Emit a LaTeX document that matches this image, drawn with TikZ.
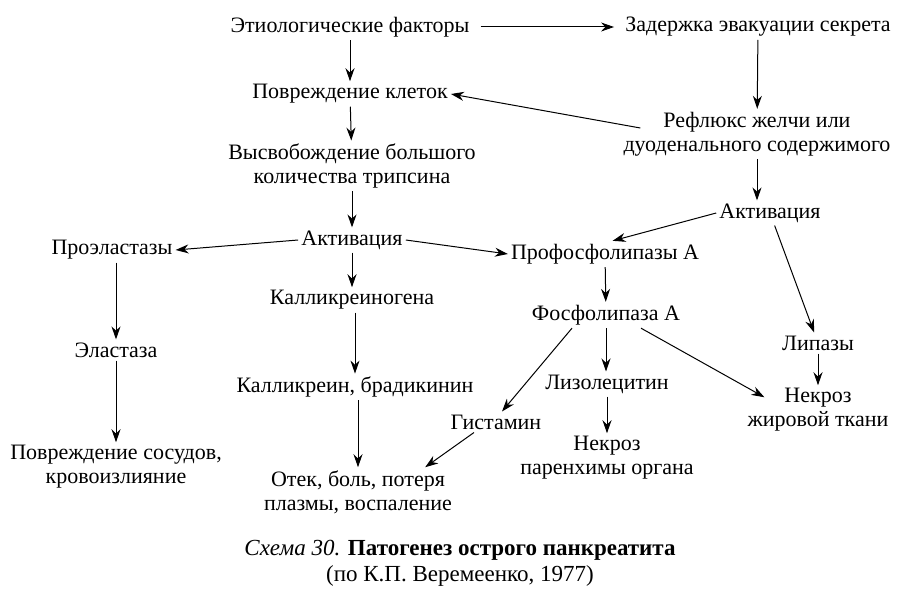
\documentclass[tikz,border=0pt]{standalone}
\usepackage{fontspec}
\setmainfont{Liberation Serif}
\usetikzlibrary{arrows, arrows.meta}

\begin{document}
\begin{tikzpicture}[x=1pt, y=-1pt, font=\fontsize{22}{24}\selectfont,
        txt/.style={inner sep=3pt, align=center},
        arr/.style={-{Stealth[length=13pt, width=9pt]}, line width=1pt}]
        \useasboundingbox (0,0) rectangle (922,604);
        \node[txt] (etio) at (350,27) {Этиологические факторы};
        \node[txt] (zad) at (758,27) {Задержка эвакуации секрета};
        \node[txt] (povr) at (350,94) {Повреждение клеток};
        \node[txt] (refl) at (757,134) {Рефлюкс желчи или\\дуоденального содержимого};
        \node[txt] (vys) at (352,166) {Высвобождение большого\\количества трипсина};
        \node[txt] (akt1) at (352,240) {Активация};
        \node[txt] (akt2) at (770,213) {Активация};
        \node[txt] (proel) at (112,250) {Проэластазы};
        \node[txt] (prof) at (605,254) {Профосфолипазы А};
        \node[txt] (kalg) at (352,300) {Калликреиногена};
        \node[txt] (elast) at (116,350) {Эластаза};
        \node[txt] (fosf) at (606,315) {Фосфолипаза А};
        \node[txt] (lip) at (818,343) {Липазы};
        \node[txt] (kalb) at (355,387) {Калликреин, брадикинин};
        \node[txt] (lizo) at (607,384) {Лизолецитин};
        \node[txt] (gist) at (496,422) {Гистамин};
        \node[txt] (nekrz) at (818,410) {Некроз\\жировой ткани};
        \node[txt] (nekrp) at (607,458) {Некроз\\паренхимы органа};
        \node[txt] (povs) at (116,467) {Повреждение сосудов,\\кровоизлияние};
        \node[txt] (otek) at (358,492) {Отек, боль, потеря\\плазмы, воспаление};
        \node[txt, font=\fontsize{23}{26}\selectfont] (capt) at (460,563) {{\itshape Схема 30.} \textbf{Патогенез острого панкреатита}\\(по К.П. Веремеенко, 1977)};
        \draw[arr, shorten <=8pt, shorten >=8pt] (etio) -- (zad);
        \draw[arr] (etio) -- (povr);
        \draw[arr] (zad) -- (refl);
        \draw[arr] ([xshift=20pt, yshift=6pt]refl.west) -- (povr.east);
        \draw[arr] (povr) -- (vys);
        \draw[arr] (vys) -- (akt1);
        \draw[arr] (refl) -- (refl |- akt2.north);
        \draw[arr] (akt1.west) -- (proel.east);
        \draw[arr] (akt1.east) -- (prof.west);
        \draw[arr] (akt2.west) -- (prof.60);
        \draw[arr] (akt2) -- (lip);
        \draw[arr] (akt1) -- (kalg);
        \draw[arr] (elast |- proel.south) -- (elast);
        \draw[arr] (prof) -- (fosf);
        \draw[arr] (kalb |- kalg.south) -- (kalb);
        \draw[arr] (fosf) -- (fosf |- lizo.north);
        \draw[arr] ([xshift=-34pt]fosf.south) -- ([xshift=6pt]gist.north);
        \draw[arr] ([xshift=35pt]fosf.south) -- ([xshift=20pt, yshift=-12pt]nekrz.north west);
        \draw[arr] (lip) -- (nekrz);
        \draw[arr] (nekrp |- lizo.south) -- (nekrp);
        \draw[arr] (elast) -- (elast |- povs.north);
        \draw[arr] (otek |- kalb.south) -- (otek);
        \draw[arr] ([xshift=-22pt]gist.south) -- ([xshift=-30pt]otek.north east);
      \end{tikzpicture}
\end{document}
